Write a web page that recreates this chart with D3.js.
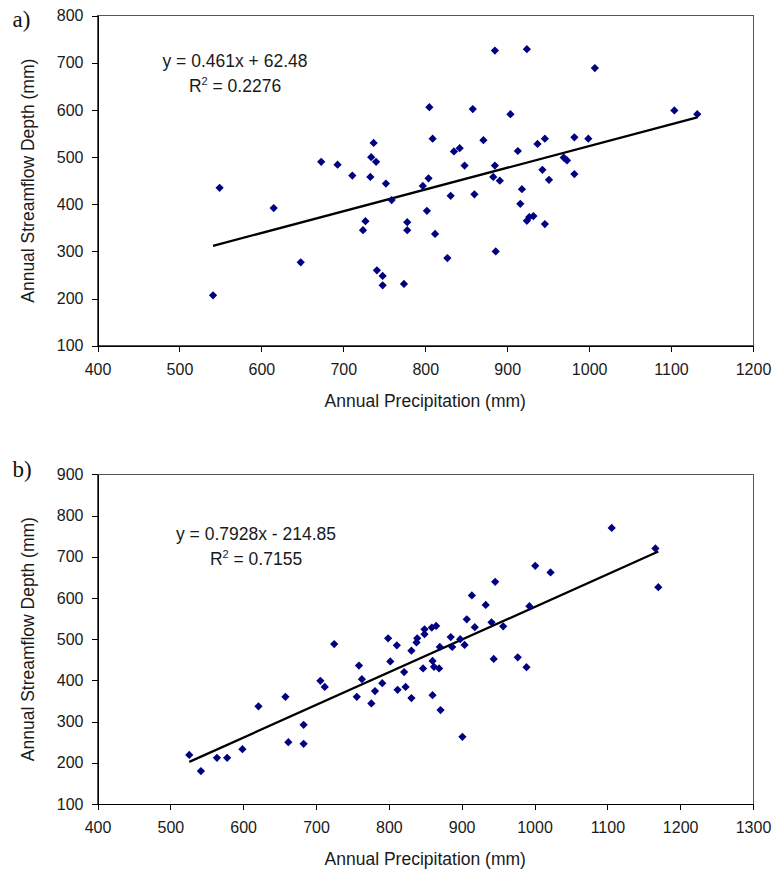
<!DOCTYPE html>
<html>
<head>
<meta charset="utf-8">
<script src="https://cdn.jsdelivr.net/npm/d3@7"></script>
<style>
    body { margin: 0; background: #fff; }
    svg text { font-family: "Liberation Sans", Arial, sans-serif; fill: #1a1a1a; }
    .axis path, .axis line { stroke: #000; shape-rendering: crispEdges; }
    .axis text { font-size: 16px; fill: #1a1a1a; font-family: "Liberation Sans", Arial, sans-serif; }
    .frame { fill: none; stroke: #555; shape-rendering: crispEdges; }
    .title { font-size: 17.5px; }
    .eq { font-size: 17.5px; }
    .panel-label { font-family: "Liberation Serif", "Times New Roman", serif; font-size: 23px; fill: #111; }
    .dot { fill: #000080; }
    .trend { stroke: #000; stroke-width: 2.3; fill: none; }
</style>
</head>
<body>
<div id="graphHolder"></div>
<script>
'use strict'
// panel a) annual precipitation vs streamflow depth (mm)
var precipA = [541, 549, 615, 648, 673, 693, 711, 733, 737, 734, 740, 752, 759, 727, 724,
    741, 748, 748, 774, 778, 778, 797, 802, 804, 805, 809, 812, 827, 831, 835, 842,
    848, 858, 860, 871, 885, 885, 883, 891, 886, 904, 913, 918, 916, 924, 924, 927,
    932, 937, 943, 946, 951, 946, 969, 973, 982, 982, 999, 1007, 1104, 1132];
var streamA = [207, 435, 392, 277, 490, 484, 461, 458, 530, 500, 490, 444, 409, 364, 345,
    260, 248, 228, 231, 362, 345, 439, 386, 455, 606, 539, 337, 286, 418, 512, 519,
    482, 602, 421, 536, 726, 482, 458, 450, 300, 591, 513, 432, 401, 729, 365, 373,
    375, 528, 473, 539, 452, 358, 499, 493, 542, 464, 539, 689, 599, 591];
var xTicksA = [400, 500, 600, 700, 800, 900, 1000, 1100, 1200];
var yTicksA = [100, 200, 300, 400, 500, 600, 700, 800];
var trendA = [0.461, 62.48];
var eqTextA = ["y = 0.461x + 62.48", "0.2276"];

// panel b)
var precipB = [526, 542, 564, 578, 599, 621, 658, 662, 683, 683, 706, 712, 725, 759, 763,
    756, 776, 781, 791, 799, 802, 811, 812, 821, 823, 831, 831, 838, 839, 847, 849,
    849, 859, 865, 860, 860, 862, 871, 869, 870, 885, 887, 898, 904, 901, 907, 914,
    918, 933, 941, 944, 946, 957, 977, 989, 993, 1001, 1022, 1106, 1166, 1170];
var streamB = [219, 180, 212, 212, 233, 337, 360, 250, 292, 246, 399, 384, 488, 436, 403,
    360, 344, 374, 393, 502, 446, 485, 377, 420, 384, 357, 472, 492, 502, 429, 512,
    524, 528, 532, 364, 447, 433, 328, 429, 481, 505, 481, 500, 486, 263, 548, 606,
    529, 583, 541, 452, 639, 531, 456, 432, 580, 678, 662, 770, 720, 626];
var xTicksB = [400, 500, 600, 700, 800, 900, 1000, 1100, 1200, 1300];
var yTicksB = [100, 200, 300, 400, 500, 600, 700, 800, 900];
var trendB = [0.7928, -214.85];
var eqTextB = ["y = 0.7928x - 214.85", "0.7155"];

function scatterChart() {
    var _chart = {};
    var _svg, _bodyG, _origin = [0, 0], _width, _height,
        _xData, _yData, _xTicks, _yTicks, _trend, _eqText,
        _eqPos = [0, 0], _label,
        _xScale, _yScale;

    _chart.render = function () {
        _xScale = d3.scaleLinear()
                .domain(d3.extent(_xTicks))
                .range([0, _width]);
        _yScale = d3.scaleLinear()
                .domain(d3.extent(_yTicks))
                .range([_height, 0]);

        _bodyG = _svg.append("g")
                .attr("transform", "translate(" + _origin[0] + "," + _origin[1] + ")");

        renderFrame();
        renderAxes();
        renderTrend();
        renderDots();
        renderTexts();
    };

    function renderFrame() {
        _bodyG.append("rect")
                .attr("class", "frame")
                .attr("x", 0)
                .attr("y", 0)
                .attr("width", _width)
                .attr("height", _height);
    }

    function renderAxes() {
        var xAxis = d3.axisBottom(_xScale)
                .tickValues(_xTicks)
                .tickSizeInner(6)
                .tickSizeOuter(0)
                .tickPadding(12)
                .tickFormat(d3.format("d"));
        _bodyG.append("g")
                .attr("class", "x axis")
                .attr("transform", "translate(0," + _height + ")")
                .call(xAxis);

        var yAxis = d3.axisLeft(_yScale)
                .tickValues(_yTicks)
                .tickSizeInner(6)
                .tickSizeOuter(0)
                .tickPadding(8)
                .tickFormat(d3.format("d"));
        _bodyG.append("g")
                .attr("class", "y axis")
                .call(yAxis);

        _bodyG.selectAll(".axis text").attr("fill", "#1a1a1a");
    }

    function renderTrend() {
        // end points of the fitted line sit at the smallest and largest precipitation
        var ext = d3.extent(_xData);
        var line = d3.line()
                .x(function (d) { return _xScale(d); })
                .y(function (d) { return _yScale(_trend[0] * d + _trend[1]); });

        _bodyG.append("path")
                .datum(ext)
                .attr("class", "trend")
                .attr("d", line);
    }

    function renderDots() {
        var diamond = d3.symbol().type(d3.symbolSquare).size(34);

        _bodyG.selectAll("path.dot")
                .data(d3.range(_xData.length))
                .enter()
                .append("path")
                .attr("class", "dot")
                .attr("d", diamond)
                .attr("transform", function (i) {
                    return "translate(" + _xScale(_xData[i]) + "," + _yScale(_yData[i]) + ") rotate(45)";
                });
    }

    function renderTexts() {
        _bodyG.append("text")
                .attr("class", "title")
                .attr("x", _width / 2)
                .attr("y", _height + 61)
                .attr("text-anchor", "middle")
                .text("Annual Precipitation (mm)");

        _bodyG.append("text")
                .attr("class", "title")
                .attr("transform", "translate(-63.5," + (_height / 2) + ") rotate(-90)")
                .attr("text-anchor", "middle")
                .text("Annual Streamflow Depth (mm)");

        _bodyG.append("text")
                .attr("class", "eq")
                .attr("x", _eqPos[0])
                .attr("y", _eqPos[1])
                .attr("text-anchor", "middle")
                .text(_eqText[0]);

        var r2 = _bodyG.append("text")
                .attr("class", "eq")
                .attr("x", _eqPos[0])
                .attr("y", _eqPos[1] + 25)
                .attr("text-anchor", "middle");
        r2.append("tspan").text("R");
        r2.append("tspan").attr("dy", -7).attr("font-size", "11px").text("2");
        r2.append("tspan").attr("dy", 7).text(" = " + _eqText[1]);

        _bodyG.append("text")
                .attr("class", "panel-label")
                .attr("x", -85)
                .attr("y", _label[1])
                .text(_label[0]);
    }

    _chart.svg = function (s) {
        if (!arguments.length) return _svg;
        _svg = s;
        return _chart;
    };
    _chart.origin = function (o) {
        if (!arguments.length) return _origin;
        _origin = o;
        return _chart;
    };
    _chart.size = function (w, h) {
        _width = w;
        _height = h;
        return _chart;
    };
    _chart.data = function (x, y) {
        _xData = x;
        _yData = y;
        return _chart;
    };
    _chart.ticks = function (xt, yt) {
        _xTicks = xt;
        _yTicks = yt;
        return _chart;
    };
    _chart.trend = function (t, txt, pos) {
        _trend = t;
        _eqText = txt;
        _eqPos = pos;
        return _chart;
    };
    _chart.label = function (l) {
        _label = l;
        return _chart;
    };
    return _chart;
}

var svg = d3.select("div#graphHolder").append("svg")
        .attr("width", 779)
        .attr("height", 872);

scatterChart()
        .svg(svg)
        .origin([97.5, 15.7])
        .size(655.5, 330)
        .data(precipA, streamA)
        .ticks(xTicksA, yTicksA)
        .trend(trendA, eqTextA, [137.5, 51])
        .label(["a)", 11])
        .render();

scatterChart()
        .svg(svg)
        .origin([97.5, 474.3])
        .size(655.5, 329.7)
        .data(precipB, streamB)
        .ticks(xTicksB, yTicksB)
        .trend(trendB, eqTextB, [158.5, 65.7])
        .label(["b)", 3])
        .render();
</script>
</body>
</html>
